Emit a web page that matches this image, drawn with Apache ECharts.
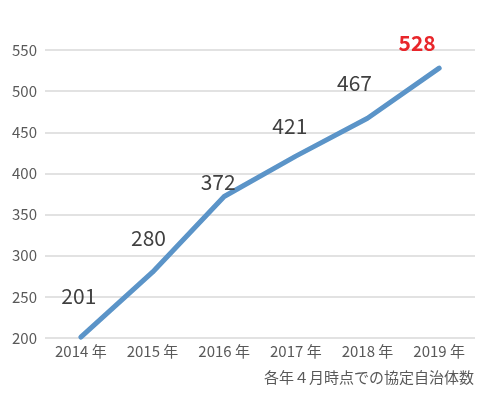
<!DOCTYPE html>
<html>
<head>
<meta charset="utf-8">
<script src="https://cdn.jsdelivr.net/npm/echarts@6/dist/echarts.min.js"></script>
<style>html,body{margin:0;padding:0;background:#fff;}#c{width:484px;height:393px;}</style>
</head>
<body>
<div id="c"></div>
<script>
const categories = ['2014 年','2015 年','2016 年','2017 年','2018 年','2019 年'];
const values = [201, 280, 372, 421, 467, 528];
const yTicks = [200, 250, 300, 350, 400, 450, 500, 550];
const note = '各年４月時点での協定自治体数';

const labelOffsets = [[-2,-25],[-4,-18],[-6,2],[-6,-14],[-13,-19],[-22,-9]];
const chart = echarts.init(document.getElementById('c'), null, {renderer:'canvas'});
const font = '"Noto Sans CJK JP", "Noto Sans", sans-serif';
const data = values.map((v,i)=>{
  const last = i === values.length-1;
  return {
    value: v,
    label: {
      offset: labelOffsets[i],
      color: last ? '#e8262b' : '#404040',
      fontWeight: last ? 'bold' : 'normal'
    }
  };
});
chart.setOption({
  backgroundColor: '#fff',
  animation: false,
  grid: {left: 45, right: 9, top: 50, bottom: 55},
  xAxis: {
    type: 'category',
    data: categories,
    boundaryGap: true,
    axisLine: {show: false},
    axisTick: {show: false},
    axisLabel: {color: '#595959', fontSize: 15, fontFamily: font, margin: 6}
  },
  yAxis: {
    type: 'value',
    min: yTicks[0],
    max: yTicks[yTicks.length-1],
    interval: 50,
    axisLine: {show: false},
    axisTick: {show: false},
    axisLabel: {color: '#595959', fontSize: 15, fontFamily: font, margin: 8},
    splitLine: {lineStyle: {color: '#d9d9d9', width: 1.5}}
  },
  graphic: [{
    type: 'text',
    right: 10,
    top: 370,
    style: {text: note, fill: '#595959', font: '15px ' + font}
  }],
  series: [{
    type: 'line',
    data: data,
    symbol: 'circle',
    symbolSize: 1,
    showSymbol: true,
    itemStyle: {color: '#5b94c8'},
    lineStyle: {color: '#5b94c8', width: 5, cap: 'round', join: 'round'},
    label: {
      show: true,
      position: 'top',
      fontSize: 21,
      fontFamily: font
    }
  }]
});
</script>
</body>
</html>
